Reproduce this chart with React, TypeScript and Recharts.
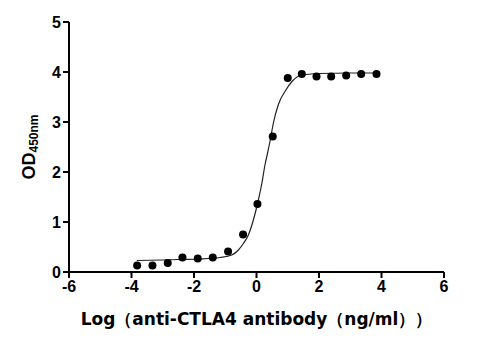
import React from "react";
import {
  ComposedChart,
  Line,
  Scatter,
  XAxis,
  YAxis,
  Label,
} from "recharts";

// Measured OD450 points (log10 concentration, OD)
const logConc = [
  -3.82, -3.33, -2.84, -2.37, -1.88, -1.4, -0.91, -0.43, 0.03, 0.52, 1.0, 1.45,
  1.92, 2.39, 2.87, 3.35, 3.84,
];
const odValues = [
  0.13, 0.13, 0.18, 0.29, 0.27, 0.29, 0.41, 0.75, 1.36, 2.71, 3.88, 3.96, 3.91,
  3.91, 3.93, 3.96, 3.96,
];

// Fitted curve
const curveX = [
  -3.83, -3.0, -2.5, -1.8, -1.16, -0.79, -0.58, -0.42, -0.26, -0.1, 0.06, 0.17,
  0.28, 0.33, 0.44, 0.54, 0.7, 0.92, 1.15, 1.4, 2.0, 3.0, 3.84,
];
const curveY = [
  0.23, 0.24, 0.25, 0.26, 0.29, 0.34, 0.44, 0.57, 0.74, 1.04, 1.44, 1.77, 2.17,
  2.31, 2.64, 2.98, 3.35, 3.62, 3.82, 3.93, 3.97, 3.98, 3.98,
];

const xTicks = [-6, -4, -2, 0, 2, 4, 6];
const yTicks = [0, 1, 2, 3, 4, 5];

const points = logConc.map((x, i) => ({ x, y: odValues[i] }));
const curve = curveX.map((x, i) => ({ x, y: curveY[i] }));

const font = "'Liberation Sans', Arial, sans-serif";

function YLabel() {
  return (
    <text
      x={29}
      y={147}
      transform="rotate(-90 29 147)"
      textAnchor="middle"
      dominantBaseline="central"
      fontFamily={font}
      fontWeight="bold"
      fill="#000"
    >
      <tspan fontSize={18}>OD</tspan>
      <tspan fontSize={12} dy={5}>
        450nm
      </tspan>
    </text>
  );
}

export default function App() {
  return (
    <div style={{ position: "absolute", left: 0, top: 0, background: "#fff" }}>
      <ComposedChart
        width={504}
        height={355}
        margin={{ top: 22, right: 60, bottom: 23, left: 29 }}
      >
        <XAxis
          dataKey="x"
          type="number"
          domain={[-6, 6]}
          ticks={xTicks}
          allowDataOverflow
          axisLine={{ stroke: "#000", strokeWidth: 2 }}
          tickLine={{ stroke: "#000", strokeWidth: 2 }}
          tickSize={6}
          tickMargin={3}
          tick={{ fill: "#000", fontSize: 16, fontWeight: "bold", fontFamily: font }}
          height={60}
        >
          <Label
            value="Log（anti-CTLA4 antibody（ng/ml））"
            position="insideBottom"
            offset={7}
            fill="#000"
            fontSize={17}
            fontWeight="bold"
            fontFamily="'DejaVu Sans', sans-serif"
          />
        </XAxis>
        <YAxis
          dataKey="y"
          type="number"
          domain={[0, 5]}
          ticks={yTicks}
          axisLine={{ stroke: "#000", strokeWidth: 2 }}
          tickLine={{ stroke: "#000", strokeWidth: 2 }}
          tickSize={6}
          tickMargin={2}
          tick={{ fill: "#000", fontSize: 16, fontWeight: "bold", fontFamily: font }}
          width={40}
          label={<YLabel />}
        />
        <Line
          data={curve}
          dataKey="y"
          type="monotone"
          stroke="#222"
          strokeWidth={1.2}
          dot={false}
          activeDot={false}
          isAnimationActive={false}
        />
        <Scatter
          data={points}
          dataKey="y"
          fill="#000"
          isAnimationActive={false}
          shape={(p: any) => <circle cx={p.cx} cy={p.cy} r={4} fill="#000" />}
        />
      </ComposedChart>
    </div>
  );
}
